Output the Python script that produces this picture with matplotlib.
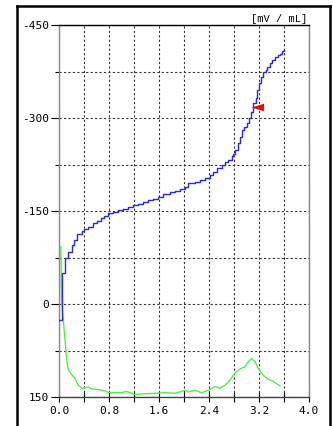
import numpy as np
import matplotlib
matplotlib.use("Agg")
import matplotlib.pyplot as plt
from matplotlib.path import Path
from matplotlib.lines import Line2D

# titration curve (step), volume [mL] / potential [mV]
vol_e = [0.0, 0.048, 0.101, 0.144, 0.203, 0.24, 0.293, 0.363, 0.40, 0.469,
         0.539, 0.603, 0.667, 0.725, 0.789, 0.869, 0.949, 1.029, 1.109, 1.189,
         1.269, 1.349, 1.429, 1.509, 1.589, 1.669, 1.776, 1.856, 1.936, 2.016,
         2.069, 2.176, 2.256, 2.336, 2.416, 2.469, 2.523, 2.603, 2.656, 2.709,
         2.763, 2.789, 2.816, 2.859, 2.901, 2.933, 2.965, 3.003, 3.04, 3.067,
         3.099, 3.147, 3.163, 3.2, 3.232, 3.269, 3.307, 3.333, 3.376, 3.413,
         3.456, 3.499, 3.536, 3.563, 3.605]
mv_e = [25, -50, -74, -84, -95, -104, -113, -117, -121, -125,
        -130, -134, -138, -142, -146, -148, -151, -154, -157, -160,
        -162, -165, -168, -170, -173, -177, -181, -183, -186, -189,
        -195, -197, -200, -204, -208, -213, -219, -224, -229, -232,
        -238, -242, -248, -259, -270, -281, -285, -292, -300, -310,
        -324, -332, -345, -356, -366, -375, -377, -383, -388, -394,
        -398, -402, -404, -408, -410]

# first derivative curve
vol_d = [0.03, 0.04, 0.069, 0.096, 0.123, 0.149, 0.203, 0.256, 0.309, 0.363,
         0.416, 0.469, 0.523, 0.629, 0.736, 0.789, 0.896, 1.003, 1.083, 1.163,
         1.216, 1.323, 1.536, 1.696, 1.856, 1.963, 2.016, 2.069, 2.176, 2.283,
         2.389, 2.496, 2.576, 2.656, 2.736, 2.816, 2.896, 2.976, 3.029, 3.083,
         3.136, 3.189, 3.243, 3.323, 3.429, 3.536]
dmv_d = [-92, -8, 26, 58, 90, 106, 114, 120, 131, 136,
         135, 134, 137, 138, 140, 143, 143, 143, 141, 144,
         146, 145, 144, 143, 144, 141, 139, 142, 139, 143,
         139, 133, 136, 131, 123, 111, 105, 101, 93, 88,
         93, 104, 112, 120, 125, 132]

# end point marker
end_vol = 3.07
end_mv = -318

x_ticks = [0.0, 0.8, 1.6, 2.4, 3.2, 4.0]
y_ticks = [-450, -300, -150, 0, 150]
unit_label = "[mV / mL]"

W, H = 333, 426
fig = plt.figure(figsize=(W / 100, H / 100), dpi=100)
ax = fig.add_axes([59 / W, 1 - 397 / H, 250 / W, 372 / H])

font = "DejaVu Sans Mono"

ax.plot(vol_d, dmv_d, color="#4cf04c", lw=1.0, zorder=3)
ax.plot(vol_e, mv_e, color="#2a2ae6", lw=1.0, drawstyle="steps-post", zorder=4)

tri = Path([(0, 0), (2, 0.6), (2, -0.6), (0, 0)],
           [Path.MOVETO, Path.LINETO, Path.LINETO, Path.CLOSEPOLY])
ax.plot([end_vol], [end_mv], marker=tri, ms=18, color="red", mec="red", mew=0, zorder=5)

ax.set_xlim(0, 4.0)
ax.set_ylim(150, -450)
ax.set_xticks(x_ticks)
ax.set_xticklabels([f"{v:.1f}" for v in x_ticks], family=font, fontsize=8)
ax.set_xticks(np.arange(0.4, 4.0, 0.8), minor=True)
ax.set_yticks(y_ticks)
ax.set_yticklabels([str(v) for v in y_ticks], family=font, fontsize=8)
ax.set_yticks(np.arange(-375, 150, 150), minor=True)

ax.tick_params(axis="x", which="both", direction="inout", length=7, width=0.8, pad=3)
ax.tick_params(axis="y", which="major", direction="out", length=6, width=0.8, pad=1)
ax.tick_params(axis="y", which="minor", direction="out", length=3, width=0.8)

ax.grid(True, which="both", color="#333333", linestyle=(0, (2, 2)), lw=0.8)
ax.set_axisbelow(True)

ax.spines["left"].set_color("#888888")
ax.spines["right"].set_color("#888888")
ax.spines["top"].set_color("black")
ax.spines["bottom"].set_color("#444444")
for s in ax.spines.values():
    s.set_linewidth(1.0)

fig.text(307 / W, 1 - 19 / H, unit_label, family="Liberation Mono", fontsize=7.5,
         ha="right", va="center")

# outer frame
for xs, ys in [([17 / W, 17 / W], [-0.1, 1 - 6 / H]),
               ([17 / W, 330 / W], [1 - 6 / H, 1 - 6 / H]),
               ([330 / W, 330 / W], [-0.1, 1 - 6 / H])]:
    fig.add_artist(Line2D(xs, ys, color="black", lw=1.8, transform=fig.transFigure))

fig.savefig("out.png", dpi=100)
